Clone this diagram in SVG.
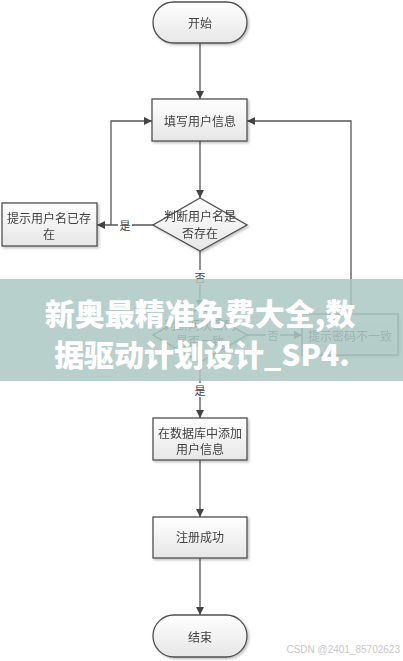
<svg xmlns="http://www.w3.org/2000/svg" width="403" height="661" viewBox="0 0 403 661">
<style>
.shape{fill:url(#g);stroke:#505050;stroke-width:1.3}
.t{font-family:"Noto Sans CJK SC","Noto Sans",sans-serif;font-size:12px;fill:#404040;text-anchor:middle;dominant-baseline:central}
.c{fill:none;stroke:#555;stroke-width:1.3}
.lbl{font-family:"Noto Sans CJK SC",sans-serif;font-size:11px;fill:#404040;text-anchor:middle;dominant-baseline:central}
.ban{font-family:"Noto Sans CJK SC",sans-serif;font-size:30px;font-weight:900;fill:#fff;text-anchor:middle;dominant-baseline:central}
</style>
<defs>
<linearGradient id="g" x1="0" y1="0" x2="0" y2="1"><stop offset="0" stop-color="#ffffff"/><stop offset="1" stop-color="#e6e6e6"/></linearGradient>
<marker id="a" viewBox="0 0 10 10" refX="10" refY="5" markerWidth="8" markerHeight="8" markerUnits="userSpaceOnUse" orient="auto"><path d="M0,0L10,5L0,10z" fill="#444"/></marker>
<filter id="sh" x="-10%" y="-10%" width="130%" height="130%"><feDropShadow dx="1.5" dy="1.5" stdDeviation="1" flood-color="#000" flood-opacity="0.25"/></filter>
</defs>
<rect width="403" height="661" fill="#fff"/>
<g id="connectors">
<path class="c" d="M200,43V99" marker-end="url(#a)"/>
<path class="c" d="M200,141V198" marker-end="url(#a)"/>
<path class="c" d="M153,225H97" marker-end="url(#a)"/>
<path class="c" d="M111,225V121H152" marker-end="url(#a)"/>
<path class="c" d="M200,251V308" marker-end="url(#a)"/>
<path class="c" d="M247,335H302" marker-end="url(#a)"/>
<path class="c" d="M351,314V121H247" marker-end="url(#a)"/>
<path class="c" d="M200,362V418" marker-end="url(#a)"/>
<path class="c" d="M200,460V517" marker-end="url(#a)"/>
<path class="c" d="M200,558V615" marker-end="url(#a)"/>
<rect x="118" y="218" width="14" height="14" fill="#fff"/>
<text class="lbl" x="125" y="225">是</text>
<rect x="193" y="270" width="14" height="14" fill="#fff"/>
<text class="lbl" x="200" y="277">否</text>
<rect x="266" y="328" width="14" height="14" fill="#fff"/>
<text class="lbl" x="273" y="335">否</text>
<rect x="193" y="383" width="14" height="14" fill="#fff"/>
<text class="lbl" x="200" y="390">是</text>
</g>
<g id="start" filter="url(#sh)"><rect class="shape" x="153" y="2" width="94" height="41" rx="20.5"/><text class="t" x="200" y="22">开始</text></g>
<g id="fill-info" filter="url(#sh)"><rect class="shape" x="152" y="99" width="95" height="42"/><text class="t" x="200" y="120">填写用户信息</text></g>
<g id="check-user" filter="url(#sh)"><path class="shape" d="M200,198L247,225L200,251L153,225z"/><text class="t" x="200" y="215">判断用户名是</text><text class="t" x="200" y="232">否存在</text></g>
<g id="user-exists" filter="url(#sh)"><rect class="shape" x="2" y="203" width="95" height="43"/><text class="t" x="49" y="217">提示用户名已存</text><text class="t" x="49" y="233">在</text></g>
<g id="check-pwd" filter="url(#sh)"><path class="shape" d="M200,308L247,335L200,362L153,335z"/><text class="t" x="200" y="324">判断两次密码</text><text class="t" x="200" y="340">是否一致</text></g>
<g id="pwd-mismatch" filter="url(#sh)"><rect class="shape" x="302" y="314" width="96" height="41"/><text class="t" x="350" y="335">提示密码不一致</text></g>
<g id="add-db" filter="url(#sh)"><rect class="shape" x="153" y="418" width="94" height="42"/><text class="t" x="200" y="432">在数据库中添加</text><text class="t" x="200" y="448">用户信息</text></g>
<g id="success" filter="url(#sh)"><rect class="shape" x="153" y="517" width="94" height="41"/><text class="t" x="200" y="536">注册成功</text></g>
<g id="end" filter="url(#sh)"><rect class="shape" x="153" y="615" width="94" height="42" rx="21"/><text class="t" x="200" y="636">结束</text></g>
<g id="banner">
<rect x="0" y="279" width="403" height="102" fill="#acc8c2" opacity="0.85"/>
<text class="ban" x="200" y="312">新奥最精准免费大全,数</text>
<text class="ban" x="202" y="353">据驱动计划设计_SP4.</text>
</g>
<text x="400" y="649" font-family="'Liberation Sans',sans-serif" font-size="10" fill="#c8c8c8" text-anchor="end" dominant-baseline="central">CSDN @2401_85702623</text>
</svg>
